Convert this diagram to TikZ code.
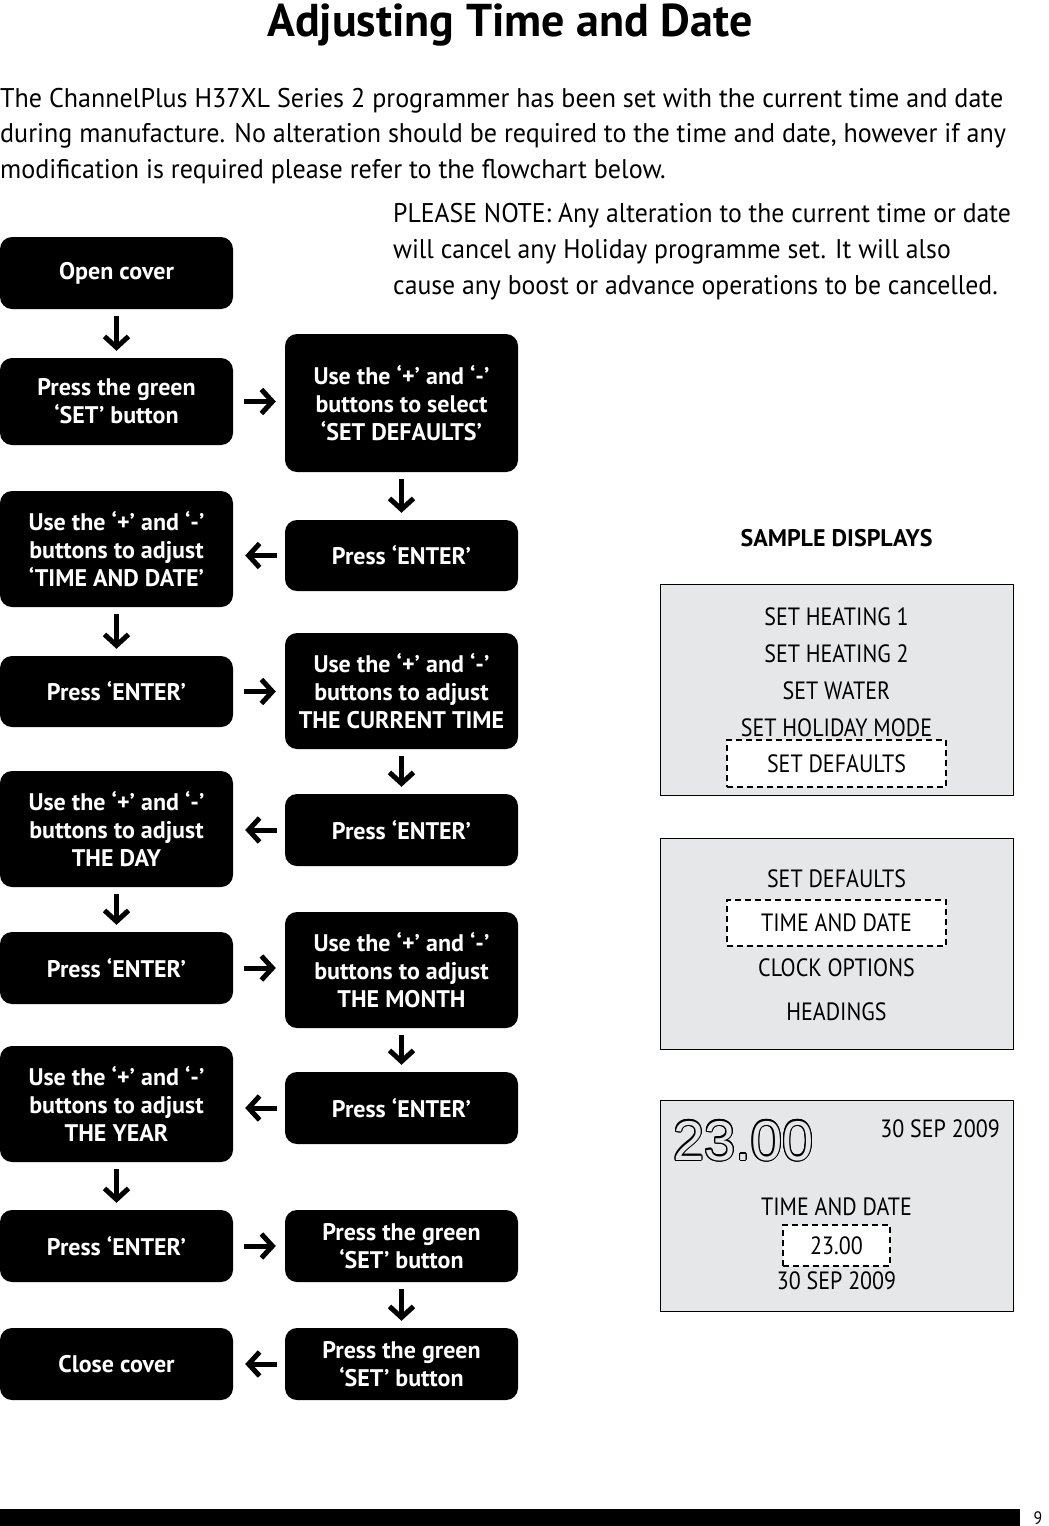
\documentclass[tikz,border=0pt]{standalone}
\usepackage{fontspec}
\setmainfont{PT Sans}
\newfontfamily\bodyfont{PT Sans}[FakeStretch=0.965]
\newfontfamily\notefont{PT Sans}[FakeStretch=0.952]
\newfontfamily\narrowfont{PT Sans}[FakeStretch=0.88]
\newfontfamily\numfont{Liberation Sans}
\usepackage{contour}
\usetikzlibrary{arrows.meta}
\definecolor{dispgray}{HTML}{E6E7E8}
\newcommand{\plusminus}{‘+’ and ‘\kern0pt-\kern0pt’}
\begin{document}
\begin{tikzpicture}[x=1pt,y=-1pt,
  box/.style={fill=black, rounded corners=12pt, text=white, font=\bfseries\fontsize{24}{28}\selectfont, align=center, minimum width=233pt, inner sep=0pt},
  arr/.style={line width=5pt, -{Straight Barb[length=11pt,width=24pt]}},
  rarr/.style={arr, shorten <=11pt, shorten >=9pt},
  larr/.style={arr, shorten <=8pt, shorten >=12pt},
  darr/.style={arr, shorten <=7pt, shorten >=7pt},
  body/.style={anchor=base west, inner sep=0pt, font=\bodyfont\fontsize{27}{36}\selectfont},
  note/.style={anchor=base west, inner sep=0pt, font=\notefont\fontsize{27}{36}\selectfont},
  disp/.style={draw=black, line width=1pt, fill=dispgray, minimum width=353pt, minimum height=211pt, inner sep=0pt},
  dline/.style={anchor=base, inner sep=0pt, font=\narrowfont\fontsize{25}{30}\selectfont},
  selbox/.style={draw=black, fill=white, dashed, line width=2pt, dash pattern=on 6pt off 4pt, inner sep=0pt, font=\narrowfont\fontsize{25}{30}\selectfont}
]
\useasboundingbox (0,0) rectangle (1049,1526);

% title
\node[anchor=base, inner sep=0pt, font=\bfseries\fontsize{46}{50}\selectfont] (title) at (510,36) {Adjusting Time and Date};

% intro text
\node[body] (t1) at (0,107) {The ChannelPlus H37XL Series 2 programmer has been set with the current time and date};
\node[body] (t2) at (0,142) {during manufacture. No alteration should be required to the time and date, however if any};
\node[body] (t3) at (0,178) {modification is required please refer to the flowchart below.};

\node[note] (n1) at (393,222) {PLEASE NOTE: Any alteration to the current time or date};
\node[note] (n2) at (393,258) {will cancel any Holiday programme set. It will also};
\node[note] (n3) at (393,294) {cause any boost or advance operations to be cancelled.};

% left column
\node[box, minimum height=72pt] (l1) at (116.5,273) {Open cover};
\node[box, minimum height=87pt] (l2) at (116.5,401.5) {Press the green\\‘SET’ button};
\node[box, minimum height=116pt] (l3) at (116.5,549) {Use the \plusminus\\buttons to adjust\\‘TIME AND DATE’};
\node[box, minimum height=71pt] (l4) at (116.5,691.5) {Press ‘ENTER’};
\node[box, minimum height=116pt] (l5) at (116.5,829) {Use the \plusminus\\buttons to adjust\\THE DAY};
\node[box, minimum height=72pt] (l6) at (116.5,968) {Press ‘ENTER’};
\node[box, minimum height=116pt] (l7) at (116.5,1104) {Use the \plusminus\\buttons to adjust\\THE YEAR};
\node[box, minimum height=72pt] (l8) at (116.5,1246) {Press ‘ENTER’};
\node[box, minimum height=72pt] (l9) at (116.5,1364) {Close cover};

% right column
\node[box, minimum height=138pt] (r1) at (401.5,403) {Use the \plusminus\\buttons to select\\‘SET DEFAULTS’};
\node[box, minimum height=71pt] (r2) at (401.5,555.5) {Press ‘ENTER’};
\node[box, minimum height=116pt] (r3) at (401.5,691) {Use the \plusminus\\buttons to adjust\\THE CURRENT TIME};
\node[box, minimum height=72pt] (r4) at (401.5,830) {Press ‘ENTER’};
\node[box, minimum height=116pt] (r5) at (401.5,970) {Use the \plusminus\\buttons to adjust\\THE MONTH};
\node[box, minimum height=72pt] (r6) at (401.5,1108) {Press ‘ENTER’};
\node[box, minimum height=72pt] (r7) at (401.5,1246) {Press the green\\‘SET’ button};
\node[box, minimum height=72pt] (r8) at (401.5,1364) {Press the green\\‘SET’ button};

% arrows
\draw[darr] (l1.south) -- (l2.north);
\draw[rarr] (l2.east) -- (l2.east -| r1.west);
\draw[darr] (r1.south) -- (r2.north);
\draw[larr] (r2.west) -- (r2.west -| l3.east);
\draw[darr] (l3.south) -- (l4.north);
\draw[rarr] (l4.east) -- (l4.east -| r3.west);
\draw[darr] (r3.south) -- (r4.north);
\draw[larr] (r4.west) -- (r4.west -| l5.east);
\draw[darr] (l5.south) -- (l6.north);
\draw[rarr] (l6.east) -- (l6.east -| r5.west);
\draw[darr] (r5.south) -- (r6.north);
\draw[larr] (r6.west) -- (r6.west -| l7.east);
\draw[darr] (l7.south) -- (l8.north);
\draw[rarr] (l8.east) -- (l8.east -| r7.west);
\draw[darr] (r7.south) -- (r8.north);
\draw[larr] (r8.west) -- (r8.west -| l9.east);

% sample displays
\node[anchor=base, inner sep=0pt, font=\bfseries\fontsize{24}{28}\selectfont] (sd) at (836.5,546) {SAMPLE DISPLAYS};

\node[disp] (d1) at (836.5,689.5) {};
\node[dline] (d1a) at (836.5,625) {SET HEATING 1};
\node[dline] (d1b) at (836.5,662) {SET HEATING 2};
\node[dline] (d1c) at (836.5,699) {SET WATER};
\node[dline] (d1d) at (836.5,736) {SET HOLIDAY MODE};
\node[selbox, minimum width=219pt, minimum height=47pt] (d1e) at (836.5,763.5) {SET DEFAULTS};

\node[disp] (d2) at (836.5,943.5) {};
\node[dline] (d2a) at (836.5,887) {SET DEFAULTS};
\node[selbox, minimum width=219pt, minimum height=46pt] (d2b) at (836.5,923) {TIME AND DATE};
\node[dline] (d2c) at (836.5,976) {CLOCK OPTIONS};
\node[dline] (d2d) at (836.5,1020) {HEADINGS};

\node[disp] (d3) at (836.5,1205.5) {};
\contourlength{1.1pt}
\node[anchor=base west, inner sep=0pt, font=\numfont\fontsize{56}{60}\selectfont] (big) at (673,1160) {\contour{black}{\textcolor{dispgray}{23.00}}};
\node[anchor=base east, inner sep=0pt, font=\narrowfont\fontsize{25}{30}\selectfont] (d3date) at (1000,1137) {30 SEP 2009};
\node[dline] (d3a) at (836.5,1215) {TIME AND DATE};
\node[selbox, minimum width=107pt, minimum height=41pt] (d3b) at (836.5,1245.5) {23.00};
\node[dline] (d3c) at (836.5,1289) {30 SEP 2009};

% footer
\fill (0,1509) rectangle (1020,1526);
\node[anchor=base, inner sep=0pt, font=\narrowfont\fontsize{18}{20}\selectfont] (pg) at (1038,1524) {9};
\end{tikzpicture}
\end{document}
